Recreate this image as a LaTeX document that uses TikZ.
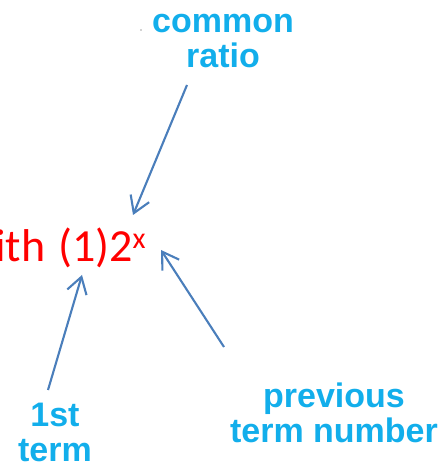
\documentclass[tikz,border=0pt]{standalone}
\usepackage{fontspec}
\setmainfont{Carlito}
\newfontfamily\labelfont{Liberation Sans}
\usetikzlibrary{arrows.meta}
\definecolor{arrowblue}{HTML}{4A7EBB}
\definecolor{labelcyan}{HTML}{12AEEB}
\definecolor{formred}{HTML}{FF0000}
\begin{document}
\begin{tikzpicture}[x=1pt,y=1pt,
  lbl/.style={font=\labelfont\bfseries\fontsize{34}{35}\selectfont, text=labelcyan, align=center, inner sep=0pt},
  formula/.style={font=\fontsize{46}{46}\selectfont, text=formred, inner sep=0pt},
  pointer/.style={draw=arrowblue, line width=2.1pt, -{Straight Barb[length=16pt,width=20pt,line width=2.1pt]}}]
\useasboundingbox (0,0) rectangle (444,468);
\clip (0,0) rectangle (444,468);
% formula
\node[formula, anchor=base west] (expr) at (58,206) {(1)2\raisebox{0.3em}{\fontsize{30}{30}\selectfont x}};
\node[formula, anchor=base east] (with) at ([xshift=-12.5pt]expr.base west) {with};
% labels
\node[lbl, anchor=base] (ratio) at (223,400) {common\\ratio};
\node[lbl, anchor=base] (first) at (55,6) {1st\\term};
\node[lbl, anchor=base] (prev) at (334,25) {previous\\term number};
\fill[gray!70] (141,438) circle (0.9pt);
% arrow endpoints
\coordinate (r0) at (187,383);
\coordinate (r1) at (133,253);
\coordinate (p0) at (224,121);
\coordinate (p1) at (161,218);
\coordinate (f0) at (48,78);
\coordinate (f1) at (82,193);
\draw[pointer] (r0) -- (r1);
\draw[pointer] (p0) -- (p1);
\draw[pointer] (f0) -- (f1);
\end{tikzpicture}
\end{document}
